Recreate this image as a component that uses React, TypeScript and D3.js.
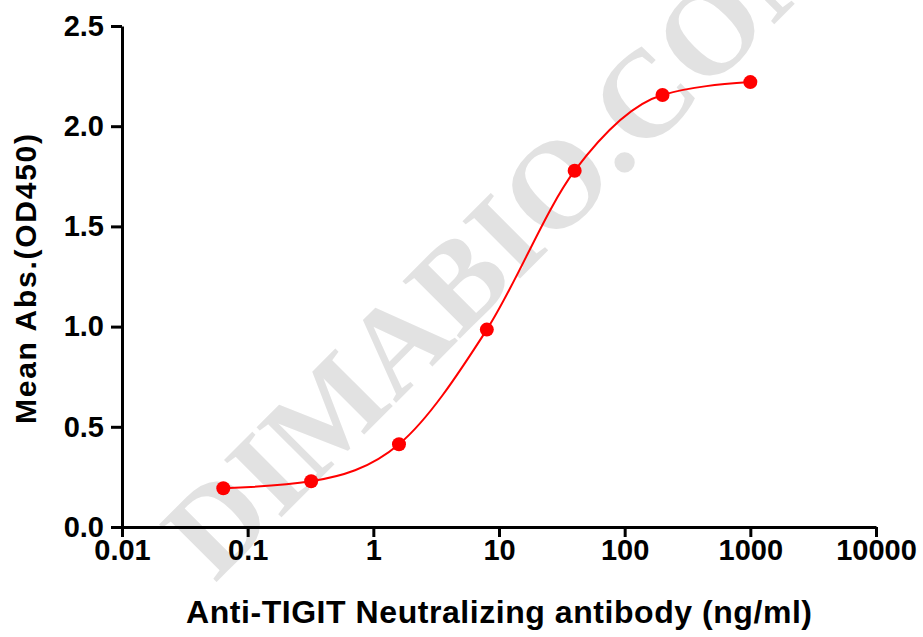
import React, { useEffect, useRef } from 'react';
import * as d3 from 'd3';

// concentration (ng/ml), 5-fold dilution series
const concentrations = [0.064, 0.32, 1.6, 8, 40, 200, 1000];
// mean OD450
const meanAbs = [0.193, 0.228, 0.413, 0.985, 1.778, 2.156, 2.22];

const xTicks = [0.01, 0.1, 1, 10, 100, 1000, 10000];
const xTickLabels = ['0.01', '0.1', '1', '10', '100', '1000', '10000'];
const yTicks = [0, 0.5, 1, 1.5, 2, 2.5];
const yTickLabels = ['0.0', '0.5', '1.0', '1.5', '2.0', '2.5'];

const xTitle = 'Anti-TIGIT Neutralizing antibody (ng/ml)';
const yTitle = 'Mean Abs.(OD450)';
const watermark = 'DIMABIO.COM';

const W = 923;
const H = 637;
const FONT = '"Liberation Sans", Arial, sans-serif';

export default function App() {
  const ref = useRef<SVGSVGElement>(null);

  useEffect(() => {
    if (!ref.current) return;
    const svg = d3.select(ref.current);
    svg.selectAll('*').remove();

    const x = d3.scaleLog().domain([0.01, 10000]).range([122, 876]);
    const y = d3.scaleLinear().domain([0, 2.5]).range([527, 26]);

    // watermark
    svg.append('text')
      .attr('transform', 'translate(506,234) rotate(-45)')
      .attr('text-anchor', 'middle')
      .attr('dominant-baseline', 'central')
      .attr('font-family', '"Liberation Serif", serif')
      .attr('font-weight', 'bold')
      .attr('font-size', 124)
      .attr('fill', '#e2e2e2')
      .text(watermark);

    const data = concentrations.map((c, i) => ({ c, v: meanAbs[i] }));

    // fitted curve
    const line = d3.line<{ c: number; v: number }>()
      .x((d) => x(d.c))
      .y((d) => y(d.v))
      .curve(d3.curveMonotoneX);

    svg.append('path')
      .datum(data)
      .attr('d', line)
      .attr('fill', 'none')
      .attr('stroke', '#ff0000')
      .attr('stroke-width', 2);

    svg.selectAll('circle.pt')
      .data(data)
      .enter().append('circle')
      .attr('class', 'pt')
      .attr('cx', (d) => x(d.c))
      .attr('cy', (d) => y(d.v))
      .attr('r', 7)
      .attr('fill', '#ff0000');

    // x axis
    const gx = svg.append('g')
      .attr('transform', `translate(0,${y(0)})`)
      .call(
        d3.axisBottom(x)
          .tickValues(xTicks)
          .tickFormat((_d, i) => xTickLabels[i])
          .tickSize(10)
          .tickSizeOuter(0)
      );
    gx.select('.domain').attr('stroke', '#000').attr('stroke-width', 3);
    gx.selectAll('.tick line').attr('stroke', '#000').attr('stroke-width', 3);
    gx.selectAll('.tick text')
      .attr('y', 12)
      .attr('fill', '#000')
      .attr('font-family', FONT)
      .attr('font-weight', 'bold')
      .attr('font-size', 29);

    // y axis
    const gy = svg.append('g')
      .attr('transform', `translate(${x(0.01)},0)`)
      .call(
        d3.axisLeft(y)
          .tickValues(yTicks)
          .tickFormat((_d, i) => yTickLabels[i])
          .tickSize(11)
          .tickSizeOuter(0)
      );
    gy.select('.domain').attr('stroke', '#000').attr('stroke-width', 3);
    gy.selectAll('.tick line').attr('stroke', '#000').attr('stroke-width', 3);
    gy.selectAll('.tick text')
      .attr('x', -18)
      .attr('fill', '#000')
      .attr('font-family', FONT)
      .attr('font-weight', 'bold')
      .attr('font-size', 29);

    // axis titles
    svg.append('text')
      .attr('x', 499)
      .attr('y', 623)
      .attr('text-anchor', 'middle')
      .attr('font-family', FONT)
      .attr('font-weight', 'bold')
      .attr('font-size', 32)
      .attr('textLength', 626)
      .text(xTitle);

    svg.append('text')
      .attr('transform', 'translate(36,279) rotate(-90)')
      .attr('text-anchor', 'middle')
      .attr('font-family', FONT)
      .attr('font-weight', 'bold')
      .attr('font-size', 30)
      .attr('textLength', 290)
      .text(yTitle);
  }, []);

  return (
    <svg
      ref={ref}
      width={W}
      height={H}
      style={{ position: 'absolute', left: 0, top: 0, background: '#fff' }}
    />
  );
}
